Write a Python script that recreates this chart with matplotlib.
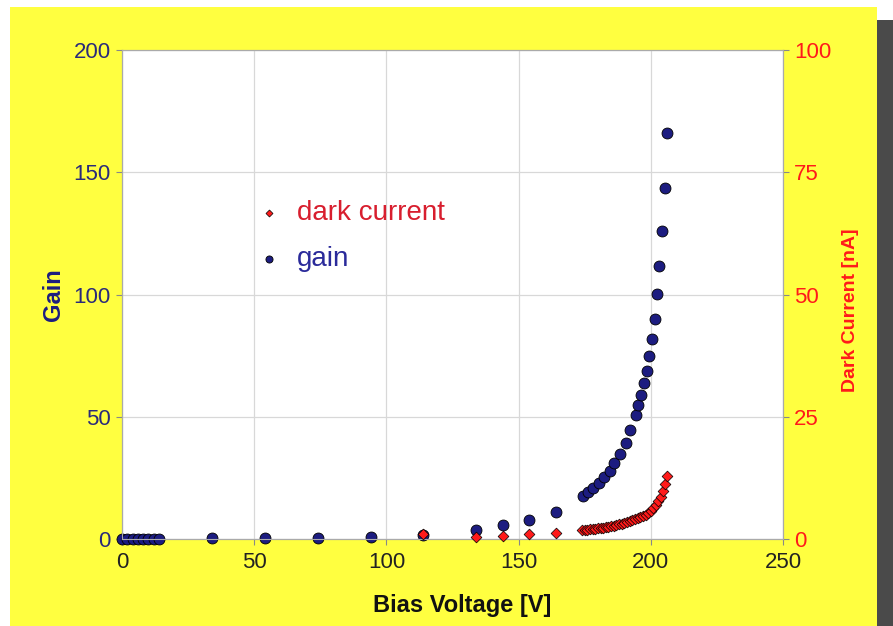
import matplotlib.pyplot as plt
from matplotlib.patches import Rectangle

plt.rcParams['font.family'] = ['Liberation Sans', 'DejaVu Sans']

# gain vs bias voltage
v_gain = [0, 2, 4, 6, 8, 10, 12, 14, 34, 54, 74, 94, 114, 134, 144, 154, 164,
          174.3, 176.2, 178.1, 180.4, 182.3, 184.5, 186.0, 188.3, 190.6, 192.1,
          194.3, 195.1, 196.2, 197.4, 198.5, 199.2, 200.4, 201.5, 202.3, 203.0,
          204.2, 205.3, 206.0]
gain = [0.2, 0.2, 0.2, 0.2, 0.2, 0.2, 0.2, 0.2, 0.3, 0.3, 0.5, 0.8, 1.5, 3.7, 5.7, 7.8, 11.0,
        17.6, 19.2, 20.9, 22.9, 25.4, 27.8, 31.1, 34.8, 39.3, 44.6,
        50.7, 54.8, 58.9, 63.8, 68.7, 74.8, 81.8, 90.0, 100.2, 111.7,
        126.0, 143.6, 166.1]

# dark current vs bias voltage
v_dark = [114, 134, 144, 154, 164,
          174, 175, 176, 177, 178, 179, 180, 181, 182, 183, 184, 185, 186, 187,
          188, 189, 190, 191, 192, 193, 194, 195, 196, 197, 198, 199, 200, 201,
          202, 202.8, 203.7, 204.5, 205.3, 206.2]
dark = [1.0, 0.5, 0.7, 0.95, 1.15,
        1.8, 1.85, 1.9, 1.95, 2.0, 2.1, 2.15, 2.25, 2.35, 2.45, 2.55, 2.65, 2.75, 2.9,
        3.0, 3.15, 3.3, 3.45, 3.6, 3.8, 4.0, 4.2, 4.45, 4.7, 5.0, 5.35, 5.75, 6.3,
        6.9, 7.7, 8.6, 9.8, 11.2, 12.9]

yellow = '#ffff40'
navy = '#1c1c80'
red = '#ff1a1a'

fig = plt.figure(figsize=(8.93, 6.26), dpi=100, facecolor='white')
# yellow panel with dark right edge
fig.patches.append(Rectangle((10 / 893, 0), 867 / 893, 619 / 626, transform=fig.transFigure,
                             facecolor=yellow, edgecolor='none', zorder=-10))
fig.patches.append(Rectangle((877 / 893, 0), 16 / 893, 606 / 626, transform=fig.transFigure,
                             facecolor='#4a4a4a', edgecolor='none', zorder=-10))

ax = fig.add_axes([122 / 893, 1 - 539 / 626, 661 / 893, 489 / 626])
ax.set_facecolor('white')
ax2 = ax.twinx()

ax.scatter(v_gain, gain, s=62, color=navy, edgecolors='black', linewidths=0.6,
           zorder=3, clip_on=False, label='gain')
ax2.scatter(v_dark, dark, s=30, marker='D', color=red, edgecolors='black', linewidths=0.5,
            zorder=4, clip_on=False, label='dark current')

ax.set_xlim(0, 250)
ax.set_ylim(0, 200)
ax2.set_ylim(0, 100)
ax.set_xticks([0, 50, 100, 150, 200, 250])
ax.set_yticks([0, 50, 100, 150, 200])
ax2.set_yticks([0, 25, 50, 75, 100])

ax.grid(True, color='#d8d8d8', linewidth=0.9)
ax.set_axisbelow(True)
for a in (ax, ax2):
    for s in a.spines.values():
        s.set_color('#aaaaaa')
        s.set_linewidth(0.8)

ax.tick_params(axis='x', colors='#888888', labelcolor='#222222', labelsize=16, length=4, pad=5)
ax.tick_params(axis='y', colors='#888888', labelcolor='#2a2a7a', labelsize=16, length=4, pad=4)
ax2.tick_params(axis='y', colors='#888888', labelcolor=red, labelsize=16, length=4, pad=4)

ax.set_xlabel('Bias Voltage [V]', fontsize=17, fontweight='bold', color='#111111')
ax.xaxis.set_label_coords(0.514, -0.112)
ax.set_ylabel('Gain', fontsize=17, fontweight='bold', color=navy, labelpad=6)
ax2.set_ylabel('Dark Current [nA]', fontsize=14, fontweight='bold', color=red)
ax2.yaxis.set_label_coords(1.089, 0.468)

h1, l1 = ax2.get_legend_handles_labels()
h2, l2 = ax.get_legend_handles_labels()
leg = ax2.legend(h1 + h2, l1 + l2, loc='upper left', bbox_to_anchor=(233 / 893, 1 - 175 / 626),
                 bbox_transform=fig.transFigure, frameon=False, fontsize=20,
                 handlelength=0.8, handletextpad=0.6, labelspacing=0.72, markerscale=0.65)
leg.get_texts()[0].set_color('#d81e2e')
leg.get_texts()[1].set_color('#2a2a9a')

fig.savefig('out.png', dpi=100)
